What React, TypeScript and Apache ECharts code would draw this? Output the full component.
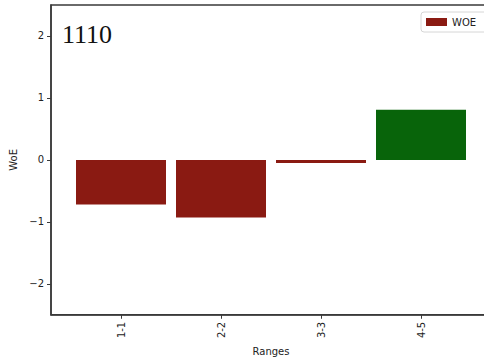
import React, { useEffect, useRef } from "react";
import * as echarts from "echarts";

// WoE per range bucket
const categories = ["1-1", "2-2", "3-3", "4-5"];
const woeValues = [-0.72, -0.93, -0.05, 0.81];
const yTicks = [-2, -1, 0, 1, 2];
const seriesName = "WOE";
const panelTitle = "1110";

const NEG_COLOR = "#8a1a12";
const POS_COLOR = "#08640a";
const AXIS_COLOR = "#3a3a3a";
const FONT = "DejaVu Sans";

const minus = (v: number) => String(v).replace("-", "\u2212");

// The canvas is wider than the visible 484px, so the right spine and the
// legend box run past the right edge of the viewport.
const CANVAS_W = 500;

export default function App() {
  const ref = useRef<HTMLDivElement>(null);

  useEffect(() => {
    if (!ref.current) return;
    const chart = echarts.init(ref.current, undefined, { renderer: "svg" });
    const xTicks = categories.map((_, i) => i);

    chart.setOption({
      animation: false,
      backgroundColor: "#ffffff",
      title: {
        text: panelTitle,
        left: 62,
        top: 21,
        padding: 0,
        textStyle: {
          fontFamily: "Liberation Serif",
          fontSize: 26,
          fontWeight: "normal",
          color: "#111111",
        },
      },
      legend: {
        data: [seriesName],
        left: 421,
        top: 12,
        padding: [5, 20, 5, 5],
        itemWidth: 21,
        itemHeight: 8,
        itemGap: 5,
        icon: "rect",
        borderColor: "#d6d6d6",
        borderWidth: 1,
        borderRadius: 3,
        textStyle: { fontFamily: FONT, fontSize: 10, color: "#222222" },
      },
      grid: {
        left: 51,
        top: 5,
        right: CANVAS_W - 491,
        bottom: 45,
        show: true,
        borderColor: AXIS_COLOR,
        borderWidth: 1.5,
        backgroundColor: "transparent",
      },
      xAxis: {
        type: "value",
        min: -0.7,
        max: 3.7,
        name: "Ranges",
        nameLocation: "middle",
        nameGap: 28,
        nameTextStyle: { fontFamily: FONT, fontSize: 10, color: "#222222" },
        splitLine: { show: false },
        axisLine: { show: true, onZero: false, lineStyle: { color: AXIS_COLOR, width: 1.5 } },
        axisTick: {
          show: true,
          customValues: xTicks,
          length: 4,
          lineStyle: { color: AXIS_COLOR, width: 1 },
        },
        axisLabel: {
          customValues: xTicks,
          rotate: 90,
          margin: 7,
          fontFamily: FONT,
          fontSize: 10,
          color: "#222222",
          formatter: (v: number) => categories[Math.round(v)] ?? "",
        },
      },
      yAxis: {
        type: "value",
        min: -2.5,
        max: 2.5,
        name: "WoE",
        nameLocation: "middle",
        nameGap: 33,
        nameTextStyle: { fontFamily: FONT, fontSize: 10, color: "#222222" },
        splitLine: { show: false },
        axisLine: { show: true, onZero: false, lineStyle: { color: AXIS_COLOR, width: 1.5 } },
        axisTick: {
          show: true,
          customValues: yTicks,
          length: 4,
          lineStyle: { color: AXIS_COLOR, width: 1 },
        },
        axisLabel: {
          customValues: yTicks,
          margin: 7,
          fontFamily: FONT,
          fontSize: 10,
          color: "#222222",
          formatter: (v: number) => minus(v),
        },
      },
      series: [
        {
          name: seriesName,
          type: "bar",
          barWidth: 90,
          itemStyle: { color: NEG_COLOR },
          data: woeValues.map((v, i) => ({
            value: [i, v],
            itemStyle: { color: v >= 0 ? POS_COLOR : NEG_COLOR },
          })),
        },
      ],
    });

    return () => chart.dispose();
  }, []);

  return (
    <div
      ref={ref}
      style={{ position: "fixed", left: 0, top: 0, width: CANVAS_W, height: 361, background: "#fff" }}
    />
  );
}
